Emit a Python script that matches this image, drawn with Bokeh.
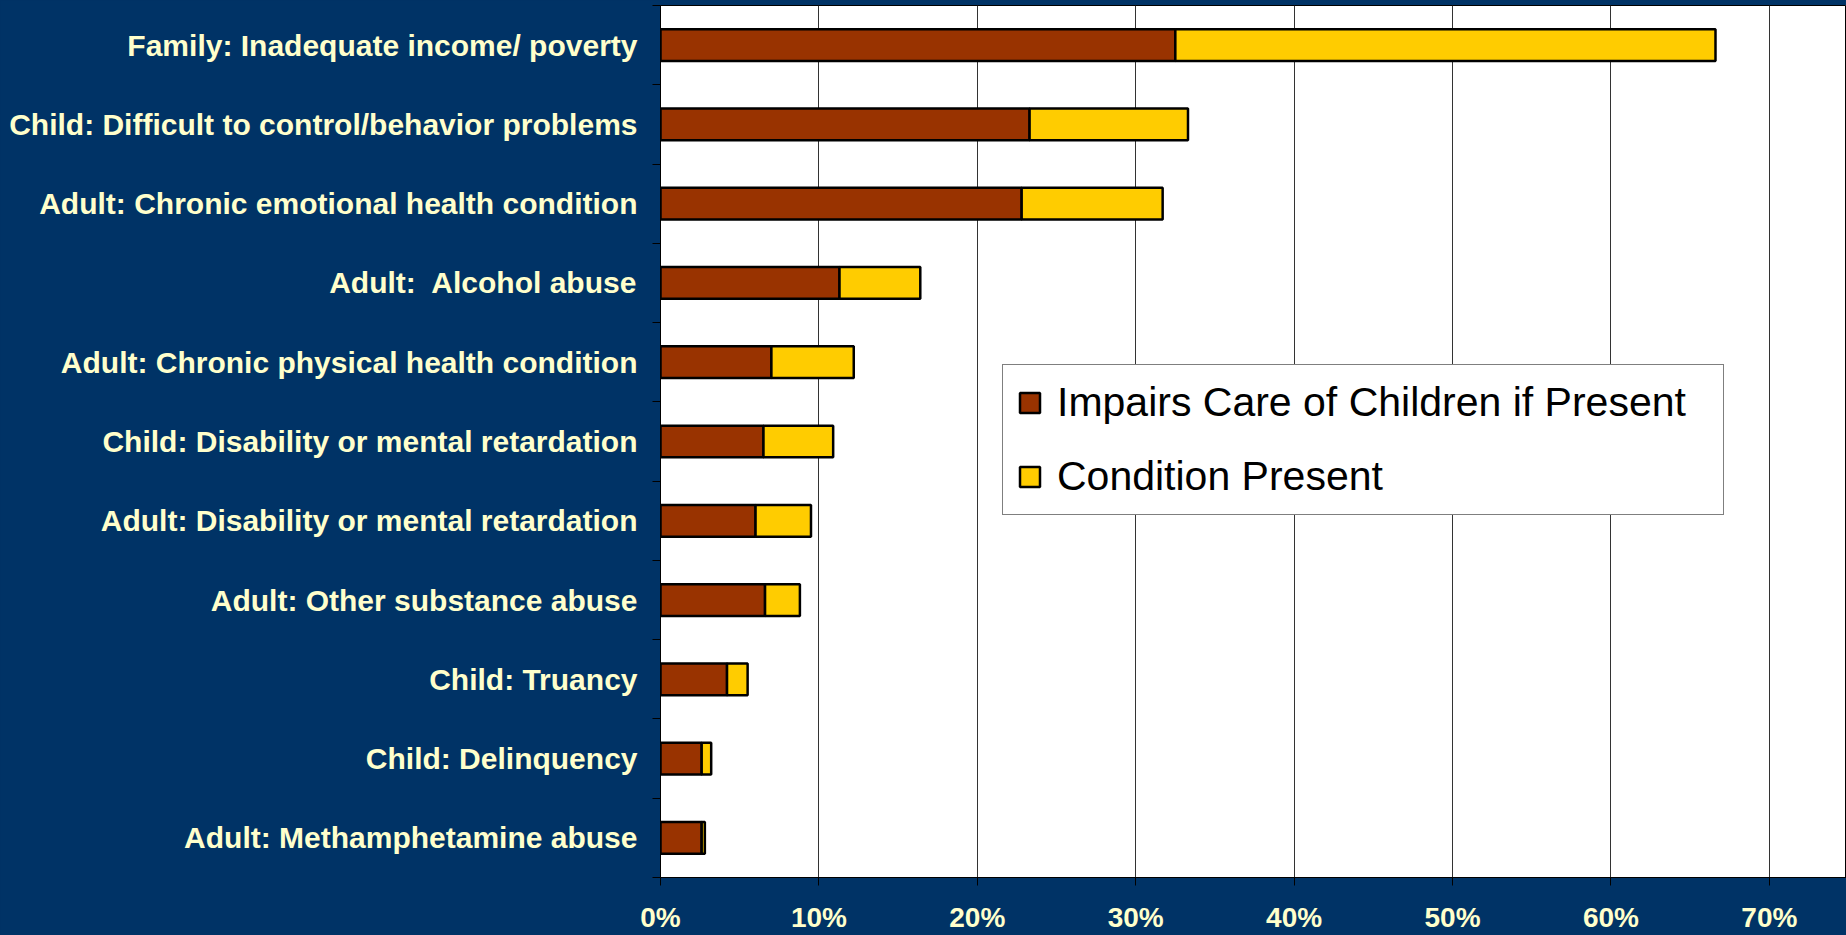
from bokeh.plotting import figure
from bokeh.models import (Range1d, FixedTicker, PrintfTickFormatter, Legend,
                          LegendItem, GlobalInlineStyleSheet)
from bokeh.embed import file_html
from bokeh.resources import INLINE

# ---- data (top row first) ----
categories = [
    "Family: Inadequate income/ poverty",
    "Child: Difficult to control/behavior problems",
    "Adult: Chronic emotional health condition",
    "Adult:\u00a0 Alcohol abuse",
    "Adult: Chronic physical health condition",
    "Child: Disability or mental retardation",
    "Adult: Disability or mental retardation",
    "Adult: Other substance abuse",
    "Child: Truancy",
    "Child: Delinquency",
    "Adult: Methamphetamine abuse",
]
impairs_care = [32.5, 23.3, 22.8, 11.3, 7.0, 6.5, 6.0, 6.6, 4.2, 2.6, 2.6]
condition_present = [66.6, 33.3, 31.7, 16.4, 12.2, 10.9, 9.5, 8.8, 5.5, 3.2, 2.8]
x_ticks = [0, 10, 20, 30, 40, 50, 60, 70]
series_names = ["Impairs Care of Children if Present", "Condition Present"]

NAVY = "#003366"
CREAM = "#FFFFCC"
BROWN = "#993300"
YELLOW = "#FFCC00"
FONT = "'Liberation Sans', Arial, sans-serif"

n = len(categories)
ys = [n - i - 0.5 for i in range(n)]

p = figure(width=1846, height=935, output_backend="svg", toolbar_location=None,
           x_range=Range1d(0, 74.87), y_range=Range1d(0, n),
           min_border_left=660, min_border_right=0, min_border_top=5,
           min_border_bottom=56)
p.stylesheets = [GlobalInlineStyleSheet(
    css="html,body{margin:0;padding:0;background:#003366;overflow:hidden;}")]

p.border_fill_color = NAVY
p.background_fill_color = "white"
p.outline_line_color = "black"
p.outline_line_width = 1

r1 = p.hbar(y=ys, left=0, right=impairs_care, height=0.4,
            fill_color=BROWN, line_color="black", line_width=2.5)
r2 = p.hbar(y=ys, left=impairs_care, right=condition_present, height=0.4,
            fill_color=YELLOW, line_color="black", line_width=2.5)

# grid
p.ygrid.grid_line_color = None
p.xgrid.ticker = FixedTicker(ticks=x_ticks)
p.xgrid.grid_line_color = "#333333"
p.xgrid.grid_line_width = 1

# x axis
xa = p.xaxis[0]
xa.ticker = FixedTicker(ticks=x_ticks)
xa.formatter = PrintfTickFormatter(format="%d%%")
xa.axis_line_color = "black"
xa.major_tick_line_color = "black"
xa.major_tick_out = 8
xa.major_tick_in = 0
xa.minor_tick_line_color = None
xa.major_label_text_color = CREAM
xa.major_label_text_font = FONT
xa.major_label_text_font_style = "bold"
xa.major_label_text_font_size = "28px"
xa.major_label_standoff = 16

# y axis
ya = p.yaxis[0]
ya.ticker = FixedTicker(ticks=ys, minor_ticks=list(range(n + 1)))
ya.major_label_overrides = {y: c for y, c in zip(ys, categories)}
ya.axis_line_color = "black"
ya.major_tick_out = 0
ya.major_tick_in = 0
ya.major_tick_line_color = None
ya.minor_tick_out = 8
ya.minor_tick_in = 0
ya.minor_tick_line_color = "black"
ya.major_label_text_color = CREAM
ya.major_label_text_font = FONT
ya.major_label_text_font_style = "bold"
ya.major_label_text_font_size = "30px"
ya.major_label_standoff = 15

legend = Legend(items=[LegendItem(label=series_names[0], renderers=[r1]),
                       LegendItem(label=series_names[1], renderers=[r2])],
                location=(342, 362))
legend.border_line_color = "black"
legend.border_line_width = 1
legend.background_fill_color = "white"
legend.background_fill_alpha = 1
legend.label_text_font = FONT
legend.label_text_font_size = "41px"
legend.label_text_color = "black"
legend.glyph_width = 25
legend.glyph_height = 25
legend.label_height = 46
legend.label_standoff = 15
legend.label_width = 652
legend.padding = 14
legend.spacing = 27
legend.margin = 0
p.add_layout(legend, "center")

open("out.html", "w").write(file_html(p, INLINE))
